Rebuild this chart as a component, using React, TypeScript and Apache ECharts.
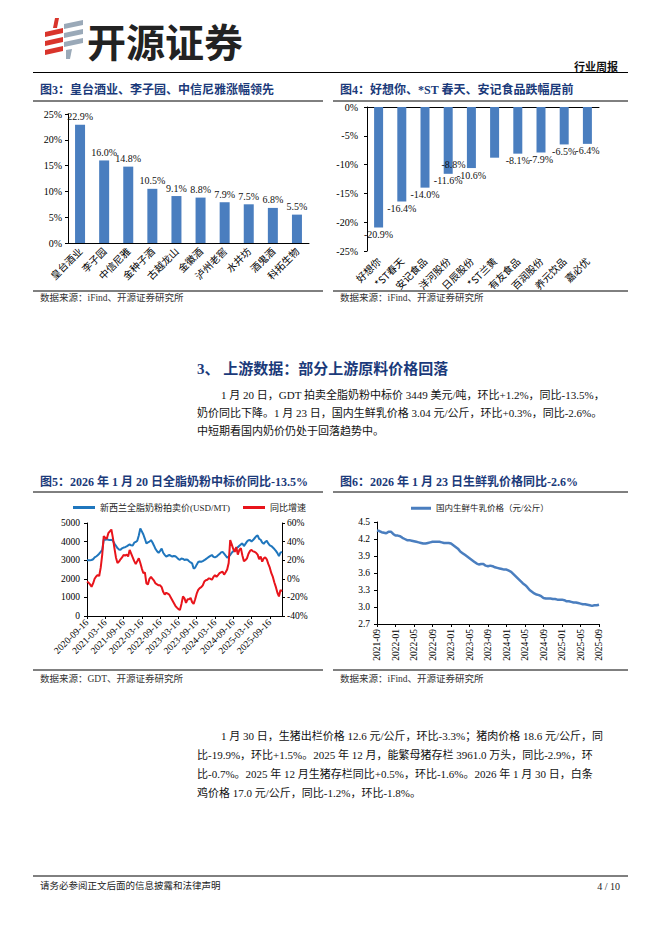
import React, { useEffect, useRef } from 'react';
import * as echarts from 'echarts';

const SERIF = "'Liberation Serif','Noto Sans CJK SC',serif";
const CJK = "'Noto Sans CJK SC','Liberation Serif',sans-serif";
const NAVY = '#1b3a7a';
const BAR = '#4a7ebf';

// Figure 3
const c3Names = ['皇台酒业', '李子园', '中信尼雅', '金种子酒', '古越龙山', '金徽酒', '泸州老窖', '水井坊', '酒鬼酒', '科拓生物'];
const c3Values = [22.9, 16.0, 14.8, 10.5, 9.1, 8.8, 7.9, 7.5, 6.8, 5.5];

// Figure 4
const c4Names = ['好想你', '*ST春天', '安记食品', '洋河股份', '日辰股份', '*ST兰黄', '有友食品', '百润股份', '养元饮品', '嘉必优'];
const c4Values = [-20.9, -16.4, -14.0, -11.6, -10.6, -8.8, -8.1, -7.9, -6.5, -6.4];

// Figure 5
const gdtTicks = ['2020-09-16', '2021-03-16', '2021-09-16', '2022-03-16', '2022-09-16', '2023-03-16', '2023-09-16', '2024-03-16', '2024-09-16', '2025-03-16', '2025-09-16'];
const gdtPrice = [
  3000, 3000, 3000, 3010, 3050, 3150, 3200, 3270, 3350, 3450,
  3550, 4100, 4100, 4120, 4100, 4080, 4100, 4050, 3900, 3780,
  3650, 3580, 3560, 3640, 3680, 3700, 3740, 3800, 3850, 3800,
  3790, 3940, 3980, 4050, 4330, 4700, 4550, 4380, 4150, 3900,
  3960, 4000, 4080, 3950, 3780, 3600, 3480, 3390, 3500, 3620,
  3400, 3290, 3200, 3240, 3280, 3240, 3190, 3230, 3210, 3140,
  3060, 3020, 3090, 3070, 3010, 3040, 3020, 2940, 2880, 2830,
  2550, 2600, 2760, 2900, 2930, 2920, 2950, 3000, 3060, 3120,
  3180, 3230, 3280, 3180, 3150, 3190, 3260, 3330, 3420, 3450,
  3350, 3250, 3130, 3200, 3280, 3400, 3480, 3560, 3640, 3700,
  3780, 3850, 3900, 3760, 3880, 4000, 4070, 4080, 4010, 4080,
  4180, 4280, 4330, 4150, 4100, 3950, 3880, 3980, 4040, 3900,
  3800, 3760, 3680, 3600, 3500, 3380, 3220, 3410, 3449,
];
const gdtYoY = [
  -3, -4, -6, -8.5, -5, 0, 2.5, 4, 3, 12,
  26, 46, 44, 43, 49, 51, 53, 44, 33, 23,
  17, 18.5, 21, 23, 25.6, 25, 26, 24, 31, 27,
  23, 19, 16, 19, 22, 17, 11, 6, 7, -5,
  -6, 0, 2, 0, -2, -5, -6, -7, -7, -9,
  -14, -17, -15, -16, -17, -20, -23, -26, -29, -31,
  -32.5, -33.5, -27, -19, -21, -26, -22, -22, -20.5, -25,
  -27, -22, -16, -12, -10, -9, -7, -3, -1.5, -1,
  0.5, 0, -1, 2, 4, 2, 4, 6, 7, 7.5,
  4.5, 7, 10, 17, 41.7, 37, 32, 29, 34, 26,
  31, 33, 25, 19, 20, 22, 27, 30, 31, 29.5,
  29, 28, 26, 21, 24, 18.5, 22, 23, 21, 16,
  12, 6, 2, -4, -9, -15, -19, -12, -13.5,
];

// Figure 6
const milkPrice = [
  4.35, 4.34, 4.32, 4.31, 4.30, 4.33, 4.33, 4.29, 4.26, 4.26,
  4.25, 4.22, 4.20, 4.18, 4.18, 4.17, 4.16, 4.15, 4.14, 4.13,
  4.12, 4.12, 4.13, 4.14, 4.15, 4.15, 4.15, 4.15, 4.14, 4.13,
  4.13, 4.13, 4.12, 4.09, 4.06, 4.03, 3.98, 3.95, 3.92, 3.89,
  3.86, 3.83, 3.80, 3.77, 3.75, 3.76, 3.76, 3.73, 3.72, 3.73,
  3.72, 3.70, 3.69, 3.68, 3.67, 3.66, 3.66, 3.64, 3.62, 3.58,
  3.54, 3.50, 3.46, 3.42, 3.39, 3.35, 3.30, 3.27, 3.24, 3.22,
  3.21, 3.19, 3.16, 3.15, 3.15, 3.15, 3.14, 3.14, 3.13, 3.13,
  3.13, 3.12, 3.10, 3.10, 3.09, 3.08, 3.08, 3.07, 3.06, 3.05,
  3.05, 3.04, 3.03, 3.02, 3.03, 3.03, 3.04,
];

const slotToDate = (s: number) => {
  const m = Math.floor(s / 2);
  const y = Math.floor(m / 12);
  const mo = (m % 12) + 1;
  return `${y}-${String(mo).padStart(2, '0')}-${s % 2 ? '16' : '01'}`;
};
const gdtDates = gdtPrice.map((_, i) => slotToDate((2020 * 12 + 8) * 2 + 1 + i));
const milkDates = milkPrice.map((_, i) => slotToDate((2021 * 12 + 8) * 2 + i));

const para1 = [
  '1 月 20 日，GDT 拍卖全脂奶粉中标价 3449 美元/吨，环比+1.2%，同比-13.5%，',
  '奶价同比下降。1 月 23 日，国内生鲜乳价格 3.04 元/公斤，环比+0.3%，同比-2.6%。',
  '中短期看国内奶价仍处于回落趋势中。',
];
const para2 = [
  '1 月 30 日，生猪出栏价格 12.6 元/公斤，环比-3.3%；猪肉价格 18.6 元/公斤，同',
  '比-19.9%，环比+1.5%。2025 年 12 月，能繁母猪存栏 3961.0 万头，同比-2.9%，环',
  '比-0.7%。2025 年 12 月生猪存栏同比+0.5%，环比-1.6%。2026 年 1 月 30 日，白条',
  '鸡价格 17.0 元/公斤，同比-1.2%，环比-1.8%。',
];

const txt = (text: string, x: number, y: number, size: number, o: any = {}) => ({
  type: 'text',
  x,
  y,
  silent: true,
  style: {
    text,
    fontSize: size,
    fontFamily: o.font || SERIF,
    fontWeight: o.bold ? 'bold' : 'normal',
    fill: o.color || '#111',
    textAlign: o.align || 'left',
    textVerticalAlign: 'middle',
    align: o.align || 'left',
    verticalAlign: 'middle',
  },
});
const hline = (x1: number, x2: number, y: number, w = 1) => ({
  type: 'line',
  silent: true,
  shape: { x1, y1: y, x2, y2: y },
  style: { stroke: '#000', lineWidth: w },
});
const poly = (points: number[][], fill: string) => ({ type: 'polygon', silent: true, shape: { points }, style: { fill } });

const axisLbl = (size: number, extra: any = {}) => ({ fontSize: size, color: '#000', fontFamily: SERIF, ...extra });

export default function App() {
  const ref = useRef<HTMLDivElement>(null);
  useEffect(() => {
    const chart = echarts.init(ref.current!, null, { renderer: 'svg' });
    const graphic: any[] = [
      // logo
      poly([[55, 18], [59, 18], [57, 28], [53, 28]], '#d9342b'),
      poly([[45, 32], [63, 28], [63, 33], [45, 37]], '#d9342b'),
      poly([[45, 41], [63, 37], [63, 42], [45, 46]], '#d9342b'),
      poly([[45, 50], [63, 46], [63, 51], [45, 55]], '#d9342b'),
      poly([[64, 24], [83, 20], [83, 25], [64, 29]], '#9aa9b8'),
      poly([[64, 33], [83, 29], [83, 34], [64, 38]], '#9aa9b8'),
      poly([[64, 42], [83, 38], [83, 43], [64, 47]], '#9aa9b8'),
      poly([[66, 50], [72, 49], [70, 59], [66, 59]], '#9aa9b8'),
      txt('开源证券', 87, 40, 39, { font: CJK, bold: true, color: '#222' }),
      txt('行业周报', 618, 66, 11, { font: CJK, bold: true, align: 'right' }),
      hline(33, 628, 72.5, 1.2),
      // figure titles
      txt('图3：皇台酒业、李子园、中信尼雅涨幅领先', 40, 90, 12, { bold: true, color: NAVY }),
      txt('图4：好想你、*ST 春天、安记食品跌幅居前', 340, 90, 12, { bold: true, color: NAVY }),
      hline(33, 323, 101),
      hline(333, 628, 101),
      hline(33, 323, 291),
      hline(333, 628, 291),
      txt('数据来源：iFind、开源证券研究所', 40, 298, 9.5, { color: '#333' }),
      txt('数据来源：iFind、开源证券研究所', 340, 298, 9.5, { color: '#333' }),
      // section
      txt('3、 上游数据：部分上游原料价格回落', 197, 369, 15, { bold: true, color: NAVY }),
      txt(para1[0], 221, 395, 11),
      txt(para1[1], 197, 413, 11),
      txt(para1[2], 197, 431, 11),
      txt('图5：2026 年 1 月 20 日全脂奶粉中标价同比-13.5%', 40, 482, 12, { bold: true, color: NAVY }),
      txt('图6：2026 年 1 月 23 日生鲜乳价格同比-2.6%', 340, 482, 12, { bold: true, color: NAVY }),
      hline(33, 323, 492),
      hline(333, 628, 492),
      hline(33, 323, 670),
      hline(333, 628, 670),
      txt('数据来源：GDT、开源证券研究所', 40, 679, 9.5, { color: '#333' }),
      txt('数据来源：iFind、开源证券研究所', 340, 679, 9.5, { color: '#333' }),
      txt(para2[0], 221, 736, 11),
      txt(para2[1], 197, 755, 11),
      txt(para2[2], 197, 774, 11),
      txt(para2[3], 197, 793, 11),
      hline(33, 628, 876),
      txt('请务必参阅正文后面的信息披露和法律声明', 40, 886, 9.5, { color: '#222' }),
      txt('4 / 10', 620, 886, 10, { align: 'right', color: '#222' }),
    ];

    const gdtTickFn = (_: number, v: string) => gdtTicks.includes(v);

    const option: any = {
      animation: false,
      backgroundColor: '#fff',
      textStyle: { fontFamily: SERIF },
      graphic,
      legend: [
        {
          data: ['新西兰全脂奶粉拍卖价(USD/MT)', '同比增速'],
          left: 73,
          top: 503,
          padding: 0,
          icon: 'rect',
          itemWidth: 22,
          itemHeight: 3,
          itemGap: 13,
          textStyle: { fontSize: 9, fontFamily: SERIF, color: '#222' },
        },
        {
          data: ['国内生鲜牛乳价格（元/公斤）'],
          left: 411,
          top: 504,
          padding: 0,
          icon: 'rect',
          itemWidth: 20,
          itemHeight: 3,
          textStyle: { fontSize: 8.5, fontFamily: SERIF, color: '#222' },
        },
      ],
      grid: [
        { left: 68, width: 241, top: 114, height: 129 },
        { left: 367, width: 232, top: 107, height: 144 },
        { left: 87, width: 195, top: 523, height: 93 },
        { left: 377, width: 222, top: 522, height: 102 },
      ],
      xAxis: [
        {
          gridIndex: 0, type: 'category', data: c3Names,
          axisLine: { lineStyle: { color: '#000' } }, axisTick: { show: false },
          axisLabel: { rotate: 45, interval: 0, fontSize: 10, color: '#000', fontFamily: CJK, margin: 6 },
        },
        {
          gridIndex: 1, type: 'category', data: c4Names, position: 'bottom',
          axisLine: { show: false, onZero: false }, axisTick: { show: false },
          axisLabel: { rotate: 45, interval: 0, fontSize: 10, color: '#000', fontFamily: CJK, margin: 8 },
        },
        {
          gridIndex: 1, type: 'category', data: c4Names, position: 'top',
          axisLine: { show: true, onZero: false, lineStyle: { color: '#000' } }, axisTick: { show: false },
          axisLabel: { show: false },
        },
        {
          gridIndex: 2, type: 'category', data: gdtDates, boundaryGap: false,
          axisLine: { onZero: false, lineStyle: { color: '#000' } },
          axisTick: { interval: gdtTickFn, length: 3, lineStyle: { color: '#000' } },
          axisLabel: axisLbl(9.5, { rotate: 45, interval: gdtTickFn, margin: 5 }),
        },
        {
          gridIndex: 3, type: 'category', data: milkDates, boundaryGap: false,
          axisLine: { onZero: false, lineStyle: { color: '#000' } },
          axisTick: { interval: 7, length: 3, lineStyle: { color: '#000' } },
          axisLabel: axisLbl(9.5, { rotate: 90, interval: 7, margin: 5, formatter: (v: string) => v.slice(0, 7) }),
        },
      ],
      yAxis: [
        {
          gridIndex: 0, type: 'value', min: 0, max: 25, interval: 5,
          axisLine: { show: true, lineStyle: { color: '#000' } },
          axisTick: { show: true, length: 3, lineStyle: { color: '#000' } },
          splitLine: { show: false },
          axisLabel: axisLbl(10, { formatter: '{value}%', margin: 6 }),
        },
        {
          gridIndex: 1, type: 'value', min: -25, max: 0, interval: 5,
          axisLine: { show: true, lineStyle: { color: '#000' } },
          axisTick: { show: true, length: 3, lineStyle: { color: '#000' } },
          splitLine: { show: false },
          axisLabel: axisLbl(10, { formatter: '{value}%', margin: 9 }),
        },
        {
          gridIndex: 2, type: 'value', min: 0, max: 5000, interval: 1000,
          axisLine: { show: true, lineStyle: { color: '#000' } },
          axisTick: { show: true, length: 3, lineStyle: { color: '#000' } },
          splitLine: { show: false },
          axisLabel: axisLbl(9.5, { margin: 7, formatter: (v: number) => String(v) }),
        },
        {
          gridIndex: 2, type: 'value', position: 'right', min: -40, max: 60, interval: 20,
          axisLine: { show: true, lineStyle: { color: '#000' } },
          axisTick: { show: true, length: 3, lineStyle: { color: '#000' } },
          splitLine: { show: false },
          axisLabel: axisLbl(9.5, { formatter: '{value}%', margin: 5 }),
        },
        {
          gridIndex: 3, type: 'value', min: 2.7, max: 4.5, interval: 0.3,
          axisLine: { show: true, lineStyle: { color: '#000' } },
          axisTick: { show: true, length: 3, lineStyle: { color: '#000' } },
          splitLine: { show: false },
          axisLabel: axisLbl(9.5, { margin: 7, formatter: (v: number) => v.toFixed(1) }),
        },
      ],
      series: [
        {
          type: 'bar', xAxisIndex: 0, yAxisIndex: 0, data: c3Values, barWidth: 10,
          itemStyle: { color: BAR },
          label: { show: true, position: 'top', distance: 3, fontSize: 10, color: '#111', fontFamily: SERIF, formatter: (p: any) => p.value.toFixed(1) + '%' },
        },
        {
          type: 'bar', xAxisIndex: 1, yAxisIndex: 1, barWidth: 9,
          data: c4Values.map((v, i) => (i === 5 ? { value: v, label: { offset: [-41, 0] } } : v)),
          itemStyle: { color: BAR },
          label: { show: true, position: 'bottom', distance: 2, fontSize: 10, color: '#111', fontFamily: SERIF, formatter: (p: any) => p.value.toFixed(1) + '%' },
        },
        {
          name: '新西兰全脂奶粉拍卖价(USD/MT)', type: 'line', xAxisIndex: 3, yAxisIndex: 2, data: gdtPrice,
          showSymbol: false, symbol: 'none', lineStyle: { color: '#1f76bd', width: 2 }, itemStyle: { color: '#1f76bd' },
        },
        {
          name: '同比增速', type: 'line', xAxisIndex: 3, yAxisIndex: 3, data: gdtYoY,
          showSymbol: false, symbol: 'none', lineStyle: { color: '#e8141b', width: 2 }, itemStyle: { color: '#e8141b' },
        },
        {
          name: '国内生鲜牛乳价格（元/公斤）', type: 'line', xAxisIndex: 4, yAxisIndex: 4, data: milkPrice,
          showSymbol: false, symbol: 'none', lineStyle: { color: BAR, width: 2.5 }, itemStyle: { color: BAR },
        },
      ],
    };
    chart.setOption(option);
    return () => chart.dispose();
  }, []);
  return <div ref={ref} style={{ position: 'absolute', left: 0, top: 0, width: 662, height: 936, background: '#fff' }} />;
}
